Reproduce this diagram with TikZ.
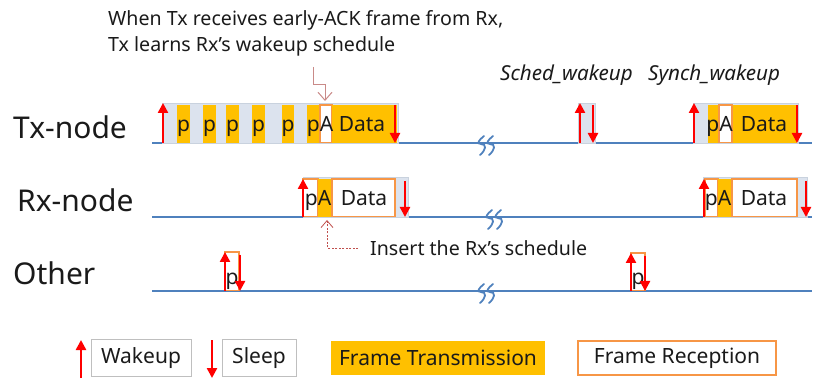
\documentclass[tikz,border=0pt]{standalone}
\usepackage{fontspec}
\setmainfont{Noto Sans}
\usetikzlibrary{arrows.meta}
\definecolor{yel}{HTML}{FFC000}
\definecolor{org}{HTML}{F79646}
\definecolor{shd}{HTML}{DCE3EE}
\definecolor{shdb}{HTML}{C9D2DE}
\definecolor{lbl}{HTML}{4F81BD}
\definecolor{ann}{HTML}{C0504D}
\definecolor{ann2}{HTML}{C98A88}
\definecolor{txt}{HTML}{1A1A1A}
\begin{document}
\begin{tikzpicture}[x=1pt,y=-1pt,
  shadebox/.style={fill=shd,draw=shdb,line width=0.6pt},
  ybox/.style={fill=yel},
  rbox/.style={fill=white,draw=org,line width=1.2pt},
  redarr/.style={draw=red,line width=2.4pt,-{Triangle[width=10pt,length=10pt]}},
  tline/.style={draw=lbl,line width=2pt},
  brk/.style={draw=lbl,line width=1.8pt,line cap=round},
  blab/.style={font=\fontsize{21}{23}\selectfont,text=txt,inner sep=0pt,anchor=base},
  rowlab/.style={font=\fontsize{30}{34}\selectfont,text=txt,inner sep=0pt,anchor=west},
  anntext/.style={font=\fontsize{19.6}{24}\selectfont,text=txt,inner sep=0pt,anchor=west,align=left},
  wktext/.style={font=\fontsize{20.6}{23}\selectfont\itshape,text=txt,inner sep=0pt,anchor=west},
  legbox/.style={draw=gray!50,line width=0.8pt,fill=white,inner sep=0pt,font=\fontsize{21}{24}\selectfont,text=txt}
]
\useasboundingbox (0,0) rectangle (819,379);

% row labels
\node[rowlab] (txlab) at (13,127) {Tx-node};
\node[rowlab] (rxlab) at (17,200) {Rx-node};
\node[rowlab] (otlab) at (13,273) {Other};

% time lines
\coordinate (txs) at (152,143); \coordinate (txe) at (812,143);
\coordinate (rxs) at (152,217); \coordinate (rxe) at (812,217);
\coordinate (ots) at (152,291); \coordinate (ote) at (812,291);
\draw[tline] (txs) -- (txe);
\draw[tline] (rxs) -- (rxe);
\draw[tline] (ots) -- (ote);

% break marks
\foreach \cx/\cy in {481/143, 489/217, 481/291}{
  \foreach \dx in {0,9}{
    \draw[brk] (\cx+\dx+3,\cy-7) .. controls (\cx+\dx-2,\cy-3) and (\cx+\dx-5,\cy+1) .. (\cx+\dx,\cy+1)
       .. controls (\cx+\dx+6,\cy+1) and (\cx+\dx+5,\cy+7) .. (\cx+\dx-1,\cy+12);
  }
}

% ---------- Tx first burst ----------
\fill[shadebox] (162,103) rectangle (398,143);
\foreach \a/\b in {177/190,203/216,226/239,252/265,282/294,307/320}{
  \fill[ybox] (\a,105) rectangle (\b,143);
}
\draw[rbox] (320,105) rectangle (332,142.5);
\fill[ybox] (332,105) rectangle (397,143);
\node[blab] (p1) at (183.5,132) {p};
\node[blab] (p2) at (209.5,132) {p};
\node[blab] (p3) at (232.5,132) {p};
\node[blab] (p4) at (258.5,132) {p};
\node[blab] (p5) at (288,132) {p};
\node[blab] (pa1) at (320,132) {pA};
\node[blab] (d1) at (362,132) {Data};
\draw[redarr] (163,143) -- (163,103);
\draw[redarr] (395,105) -- (395,143);

% ---------- Tx sched wakeup ----------
\fill[shadebox] (578,103) rectangle (595,143);
\draw[redarr] (580,143) -- (580,103);
\draw[redarr] (593,105) -- (593,143);

% ---------- Tx synch wakeup ----------
\fill[shadebox] (693,103) rectangle (798,143);
\fill[ybox] (708,105) rectangle (797,143);
\draw[rbox] (719,105) rectangle (732,142.5);
\node[blab] (pa2) at (719.5,132) {pA};
\node[blab] (d2) at (764,132) {Data};
\draw[redarr] (694,143) -- (694,103);
\draw[redarr] (797,105) -- (797,143);

% ---------- Rx first ----------
\fill[shadebox] (303,177) rectangle (408,217);
\draw[rbox] (303,179) rectangle (318,216.5);
\fill[ybox] (318,179) rectangle (332,217);
\draw[rbox] (332,179) rectangle (395,216.5);
\node[blab] (pa3) at (318,206) {pA};
\node[blab] (d3) at (364,206) {Data};
\draw[redarr] (303,217) -- (303,179);
\draw[redarr] (405,181) -- (405,217);

% ---------- Rx synch ----------
\fill[shadebox] (703,177) rectangle (807,217);
\draw[rbox] (705,179) rectangle (718,216.5);
\fill[ybox] (718,179) rectangle (732,217);
\draw[rbox] (732,179) rectangle (797,216.5);
\node[blab] (pa4) at (718,206) {pA};
\node[blab] (d4) at (764,206) {Data};
\draw[redarr] (704,217) -- (704,179);
\draw[redarr] (806,181) -- (806,217);

% ---------- Other ----------
\draw[rbox] (225,252) rectangle (239,290.5);
\node[blab] (po1) at (232,284) {p};
\draw[redarr] (225,291) -- (225,252);
\draw[redarr] (240,255) -- (240,291);
\draw[rbox] (631,253) rectangle (645,290.5);
\node[blab] (po2) at (638,284) {p};
\draw[redarr] (631,291) -- (631,253);
\draw[redarr] (645,256) -- (645,291);

% ---------- annotations ----------
\node[anntext] (ann1) at (108,20) {When Tx receives early-ACK frame from Rx,};
\node[anntext] (ann2) at (108,46) {Tx learns Rx’s wakeup schedule};
\coordinate (a1s) at (313,67);
\coordinate (a1t) at (325,101);
\draw[draw=ann2,line width=1pt,-{Straight Barb[width=14pt,length=8pt]}] (a1s) -- (313,85) -- (325,85) -- (a1t);

\node[anntext] (ins) at (370,248) {Insert the Rx’s schedule};
\coordinate (a2s) at (358,248);
\coordinate (a2t) at (327,220);
\draw[draw=ann,line width=0.8pt,dashed,dash pattern=on 2pt off 1.5pt,-{Straight Barb[width=12pt,length=7pt,line width=0.8pt]}] (a2s) -- (327,248) -- (a2t);

\node[wktext] (sched) at (500,75) {Sched\_wakeup};
\node[wktext] (synch) at (648,75) {Synch\_wakeup};

% ---------- legend ----------
\draw[redarr] (81,378) -- (81,340);
\node[legbox,minimum width=100pt,minimum height=37pt] (lw) at (141,358) {Wakeup};
\draw[redarr] (212,340) -- (212,378);
\node[legbox,minimum width=74pt,minimum height=37pt] (ls) at (259,358) {Sleep};
\node[legbox,draw=none,fill=yel,minimum width=214pt,minimum height=34pt] (lft) at (438,358) {Frame Transmission};
\node[legbox,draw=org,line width=1.5pt,minimum width=198pt,minimum height=34pt] (lfr) at (677,358) {Frame Reception};
\end{tikzpicture}
\end{document}
